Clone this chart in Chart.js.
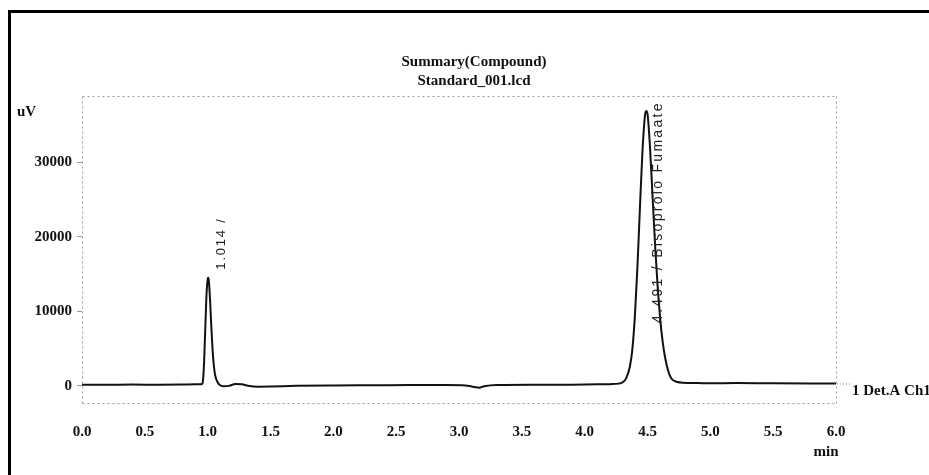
<!DOCTYPE html>
<html><head><meta charset="utf-8">
<script src="https://cdn.jsdelivr.net/npm/chart.js@4"></script>
<style>
html,body{margin:0;padding:0;background:#fff;}
#wrap{position:relative;width:929px;height:475px;overflow:hidden;background:#fff;}
#frame{position:absolute;left:8px;top:10px;width:1000px;height:1000px;border-left:3px solid #000;border-top:3px solid #000;pointer-events:none;}
canvas{position:absolute;left:0;top:0;}
</style></head><body>
<div id="wrap"><canvas id="c" width="929" height="475"></canvas><div id="frame"></div></div>
<script>
// Retention time (min)
const times = [0.00,0.20,0.40,0.60,0.80,0.90,0.95,0.96,0.97,0.98,0.99,1.00,1.005,1.01,1.02,1.03,1.04,1.05,1.06,1.08,1.10,1.13,1.17,1.22,1.27,1.32,1.40,1.50,1.70,2.00,2.30,2.60,2.90,3.05,3.12,3.16,3.20,3.30,3.60,3.90,4.10,4.20,4.27,4.30,4.33,4.36,4.38,4.40,4.42,4.44,4.46,4.48,4.49,4.50,4.52,4.54,4.56,4.58,4.60,4.62,4.64,4.66,4.68,4.70,4.73,4.78,4.90,5.00,5.20,5.50,5.80,6.00];
// Detector signal (uV)
const signal = [150,150,180,150,170,200,220,400,2600,7200,12000,14300,14500,14000,11200,7600,4600,2600,1400,450,80,-60,0,250,220,20,-120,-100,0,60,80,100,120,60,-150,-250,-50,120,150,160,200,230,300,450,1000,2600,5000,9500,16000,24000,31500,36300,36900,36500,32000,25500,19000,13500,9200,6000,3800,2300,1300,800,550,420,380,350,380,350,330,320];
const xTicks = [0,0.5,1,1.5,2,2.5,3,3.5,4,4.5,5,5.5,6];
const yTicks = [0,10000,20000,30000];
const peakTimes = [1.014, 4.491];
const peakLabels = ['1.014 /', '4.491 / Bisoprolo Fumaate'];
const peakHeights = [14500, 36900];
const titleLines = ['Summary(Compound)', 'Standard_001.lcd'];
const yUnit = 'uV';
const xUnit = 'min';
const channelLabel = '1 Det.A Ch1';

const serifBold = 'bold 15px "Liberation Serif", "DejaVu Serif", serif';

const annot = {
  id: 'annot',
  beforeDatasetsDraw(chart) {
    const {ctx, chartArea: a} = chart;
    ctx.save();
    ctx.strokeStyle = '#9a9a9a';
    ctx.lineWidth = 1;
    ctx.setLineDash([2, 3]);
    ctx.beginPath();
    ctx.moveTo(a.left + 0.5, a.top + 0.5); ctx.lineTo(a.right + 0.5, a.top + 0.5);
    ctx.moveTo(a.right + 0.5, a.top + 0.5); ctx.lineTo(a.right + 0.5, a.bottom + 0.5);
    ctx.moveTo(a.left + 0.5, a.bottom + 0.5); ctx.lineTo(a.right + 0.5, a.bottom + 0.5);
    ctx.moveTo(a.left + 0.5, a.top + 0.5); ctx.lineTo(a.left + 0.5, a.bottom + 0.5);
    ctx.stroke();
    ctx.restore();
  },
  afterDraw(chart) {
    const {ctx, chartArea: a, scales: {x, y}} = chart;
    ctx.save();
    ctx.fillStyle = '#111';
    // titles
    ctx.font = serifBold;
    ctx.textAlign = 'center';
    ctx.textBaseline = 'middle';
    ctx.fillText(titleLines[0], 474, 62);
    ctx.fillText(titleLines[1], 474, 81);
    // units
    ctx.textAlign = 'left';
    ctx.fillText(yUnit, 17, 112);
    ctx.textAlign = 'center';
    ctx.fillText(xUnit, x.getPixelForValue(6) - 10, 452);
    // channel label with leader
    const yEnd = y.getPixelForValue(signal[signal.length - 1]);
    ctx.strokeStyle = '#888';
    ctx.lineWidth = 1;
    ctx.setLineDash([1, 2]);
    ctx.beginPath();
    ctx.moveTo(a.right + 1, yEnd + 0.5); ctx.lineTo(a.right + 14, yEnd + 0.5);
    ctx.stroke();
    ctx.setLineDash([]);
    ctx.textAlign = 'left';
    ctx.fillText(channelLabel, a.right + 16, yEnd + 8);
    // peak labels (rotated, reading bottom-to-top)
    const fonts = ['13px "Liberation Sans", Arial, sans-serif', '14px "Liberation Sans", Arial, sans-serif'];
    const spacing = ['1.8px', '2.3px'];
    const offs = [[12, -8], [12, 212]];
    ctx.fillStyle = '#222';
    peakTimes.forEach((t, i) => {
      const px = x.getPixelForValue(t) + offs[i][0];
      const py = y.getPixelForValue(peakHeights[i]) + offs[i][1];
      ctx.save();
      ctx.font = fonts[i];
      try { ctx.letterSpacing = spacing[i]; } catch (e) {}
      ctx.translate(px, py);
      ctx.rotate(-Math.PI / 2);
      ctx.textAlign = 'left';
      ctx.textBaseline = 'middle';
      ctx.fillText(peakLabels[i], 0, 0);
      ctx.restore();
    });
    ctx.restore();
  }
};

new Chart(document.getElementById('c'), {
  type: 'line',
  data: {
    datasets: [{
      data: times.map((t, i) => ({x: t, y: signal[i]})),
      borderColor: '#111',
      borderWidth: 2,
      pointRadius: 0,
      cubicInterpolationMode: 'monotone',
      fill: false
    }]
  },
  options: {
    responsive: false,
    animation: false,
    layout: {padding: {left: 0, right: 93, top: 96, bottom: 0}},
    plugins: {legend: {display: false}, tooltip: {enabled: false}, title: {display: false}},
    scales: {
      x: {
        type: 'linear', min: 0, max: 6,
        afterBuildTicks: s => { s.ticks = xTicks.map(v => ({value: v})); },
        afterFit: s => { s.height = 72; },
        grid: {display: false, drawTicks: false},
        border: {display: false},
        ticks: {
          padding: 20, maxRotation: 0, autoSkip: false, color: '#111',
          font: {family: '"Liberation Serif", "DejaVu Serif", serif', size: 15, weight: 'bold'},
          callback: v => Number(v).toFixed(1)
        }
      },
      y: {
        min: -2300, max: 38900,
        afterBuildTicks: s => { s.ticks = yTicks.map(v => ({value: v})); },
        afterFit: s => { s.width = 82; },
        grid: {display: true, drawOnChartArea: false, drawTicks: true, tickLength: 5, color: '#999'},
        border: {display: false},
        ticks: {
          padding: 5, color: '#111',
          font: {family: '"Liberation Serif", "DejaVu Serif", serif', size: 15, weight: 'bold'},
          callback: v => String(v)
        }
      }
    }
  },
  plugins: [annot]
});
</script>
</body></html>
